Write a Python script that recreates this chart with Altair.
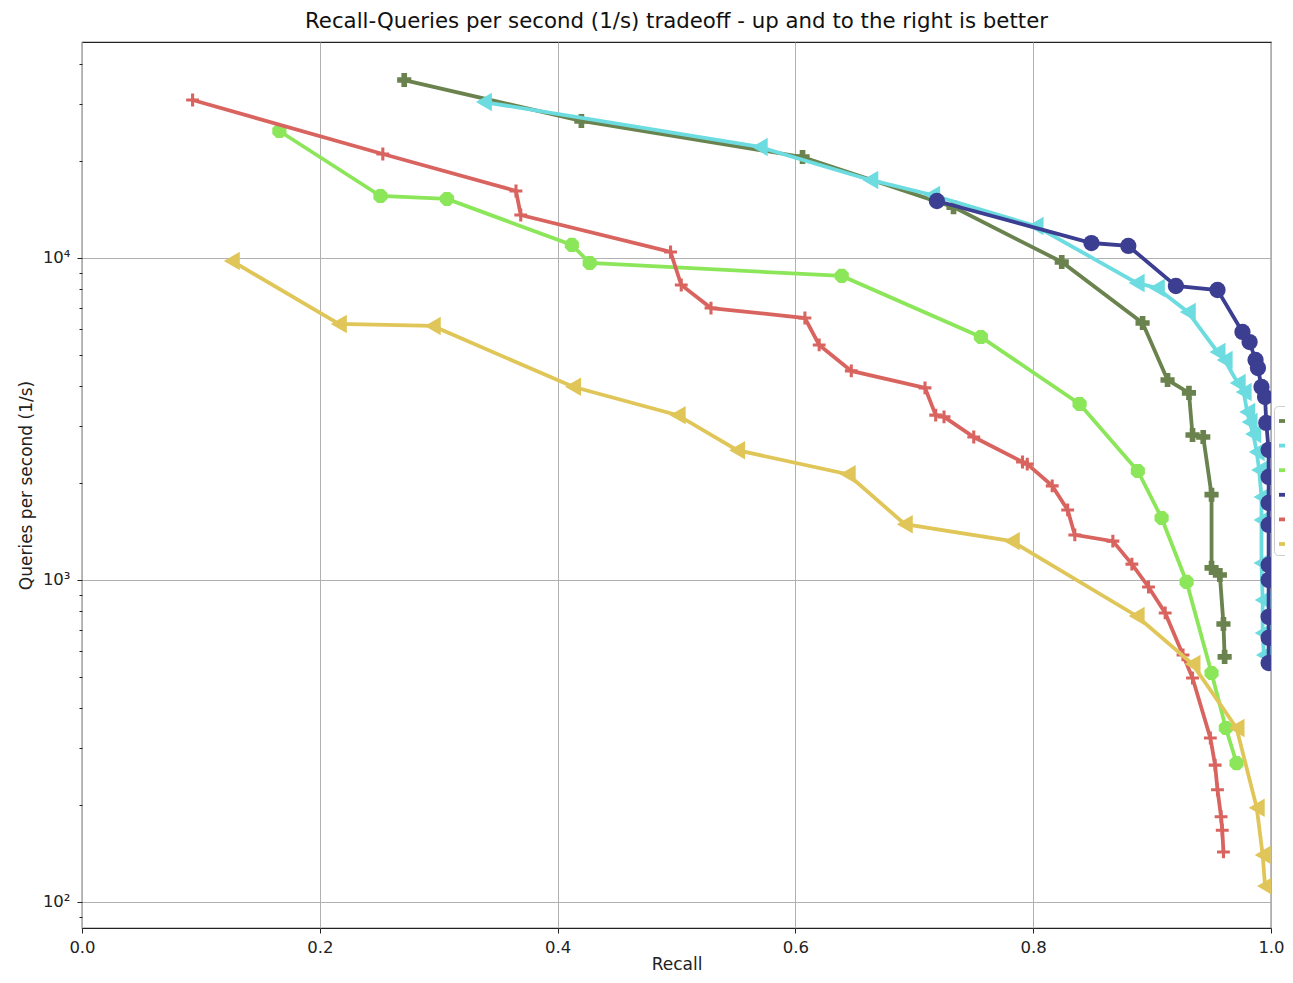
import altair as alt
import pandas as pd

names = ["series 1", "series 2", "series 3", "series 4", "series 5", "series 6"]
colors = ["#6a824d", "#6cdce0", "#8ce65a", "#3c3e91", "#d9645f", "#e0c658"]

olive_recall = [0.271, 0.420, 0.606, 0.733, 0.824, 0.892, 0.913, 0.931, 0.934, 0.943, 0.950, 0.950, 0.957, 0.960, 0.961]
olive_qps = [35700, 26640, 20590, 14390, 9720, 6280, 4180, 3810, 2820, 2780, 1840, 1090, 1036, 730, 577]

cyan_recall = [0.338, 0.570, 0.663, 0.715, 0.802, 0.887, 0.904, 0.930, 0.955, 0.961, 0.972, 0.977, 0.980,
               0.982, 0.985, 0.988, 0.990, 0.992, 0.992, 0.992, 0.993, 0.993, 0.994]
cyan_qps = [30510, 22120, 17470, 15690, 12570, 8365, 8070, 6800, 5106, 4823, 4090, 3837, 3324,
            3095, 2841, 2498, 2196, 1810, 1536, 1129, 867, 684, 585]

green_recall = [0.166, 0.251, 0.307, 0.412, 0.427, 0.639, 0.756, 0.839, 0.888, 0.908, 0.929, 0.950, 0.962, 0.971]
green_qps = [24800, 15580, 15250, 10980, 9650, 8795, 5685, 3521, 2180, 1558, 986, 514, 347, 270]

blue_recall = [0.719, 0.849, 0.880, 0.920, 0.955, 0.976, 0.982, 0.987, 0.989, 0.992, 0.995, 0.996,
               0.998, 0.998, 0.998, 0.998, 0.998, 0.998, 0.998, 0.998, 0.998]
blue_qps = [15030, 11130, 10900, 8185, 7954, 5891, 5483, 4823, 4553, 3976, 3701, 3073,
            2533, 2089, 1734, 1482, 1113, 1000, 768, 661, 552]

red_recall = [0.093, 0.253, 0.365, 0.369, 0.495, 0.504, 0.529, 0.608, 0.620, 0.647, 0.709, 0.718, 0.725,
              0.750, 0.791, 0.795, 0.816, 0.829, 0.835, 0.867, 0.883, 0.897, 0.911, 0.926, 0.934, 0.949,
              0.953, 0.955, 0.958, 0.959, 0.960]
red_qps = [30950, 21040, 16150, 13600, 10440, 8245, 6990, 6510, 5370, 4460, 3950, 3250, 3210,
           2780, 2325, 2290, 1960, 1650, 1380, 1320, 1120, 951, 790, 585, 496, 323,
           266, 223, 184, 167, 143]

yellow_recall = [0.126, 0.216, 0.295, 0.413, 0.501, 0.551, 0.644, 0.692, 0.782, 0.887, 0.934, 0.971, 0.988, 0.993, 0.995]
yellow_qps = [9790, 6240, 6150, 3980, 3250, 2530, 2130, 1490, 1320, 773, 548, 347, 196, 140, 112]

x_ticks = [0.0, 0.2, 0.4, 0.6, 0.8, 1.0]
y_ticks = [90, 100, 200, 300, 400, 500, 600, 700, 800, 900, 1000, 2000, 3000, 4000, 5000, 6000,
           7000, 8000, 9000, 10000, 20000, 30000, 40000]

OCT = "M-0.41,-1L0.41,-1L1,-0.41L1,0.41L0.41,1L-0.41,1L-1,0.41L-1,-0.41Z"
PLUS = "M-1,-0.24L1,-0.24L1,0.24L-1,0.24Z M-0.24,-1L0.24,-1L0.24,1L-0.24,1Z"
shapes = ["cross", "triangle-left", OCT, "circle", PLUS, "triangle-left"]
sizes = [200, 340, 200, 265, 165, 340]

series_data = [
    (olive_recall, olive_qps),
    (cyan_recall, cyan_qps),
    (green_recall, green_qps),
    (blue_recall, blue_qps),
    (red_recall, red_qps),
    (yellow_recall, yellow_qps),
]

FONT = "DejaVu Sans"
ymaj = "datum.value == 100 || datum.value == 1000 || datum.value == 10000"

x_enc = alt.X(
    "recall:Q",
    scale=alt.Scale(domain=[0, 1], nice=False, zero=False),
    axis=alt.Axis(values=x_ticks, format=".1f", tickSize=5, labelPadding=6,
                  labelFlush=False, title="Recall", titleY=41, titleBaseline="alphabetic"),
)
y_enc = alt.Y(
    "qps:Q",
    scale=alt.Scale(type="log", domain=[83, 46860], nice=False),
    axis=alt.Axis(
        values=y_ticks,
        labelExpr="datum.value == 100 ? '10²' : datum.value == 1000 ? '10³' : datum.value == 10000 ? '10⁴' : ''",
        labelOverlap=False,
        labelFlush=False,
        labelPadding=7,
        tickSize={"condition": {"test": ymaj, "value": 5}, "value": 3},
        gridOpacity={"condition": {"test": ymaj, "value": 1}, "value": 0},
        title="Queries per second (1/s)",
        titlePadding=7,
    ),
)
color_enc = alt.Color(
    "series:N",
    scale=alt.Scale(domain=names, range=colors),
    legend=alt.Legend(
        orient="none", legendX=1192, legendY=364, title=None,
        symbolType="stroke", symbolStrokeWidth=3.8, symbolSize=400,
        labelExpr="''", labelFontSize=16, labelFont=FONT,
        strokeColor="#cccccc", fillColor="white",
        cornerRadius=4, padding=3, rowPadding=4.6,
    ),
)

layers = []
for i, (rec, qps) in enumerate(series_data):
    df = pd.DataFrame({"series": names[i], "recall": rec, "qps": qps, "idx": list(range(len(rec)))})
    base = alt.Chart(df)
    line = base.mark_line(strokeWidth=3.8, clip=True).encode(
        x=x_enc, y=y_enc, color=color_enc, order=alt.Order("idx:Q"))
    pts = base.mark_point(filled=True, shape=shapes[i], size=sizes[i], opacity=1,
                          strokeWidth=0, clip=True).encode(
        x=x_enc, y=y_enc, color=alt.value(colors[i]))
    layers += [line, pts]

chart = alt.layer(*layers).properties(
    width=1189,
    height=886,
    autosize=alt.AutoSizeParams(type="none"),
    padding={"left": 74, "top": 34, "right": 14, "bottom": 47},
    title=alt.TitleParams(
        "Recall-Queries per second (1/s) tradeoff - up and to the right is better",
        font=FONT, fontSize=21.3, fontWeight="normal", anchor="middle", offset=10, color="#111111"),
).configure_view(
    stroke="#222222", strokeWidth=1.2
).configure_axis(
    domain=False, grid=True, gridColor="#b0b0b0", gridWidth=1,
    tickColor="#222222", tickWidth=1, labelColor="#222222", titleColor="#222222",
    labelFont=FONT, titleFont=FONT, labelFontSize=16.5, titleFontSize=17, titleFontWeight="normal",
)

chart.save("out.html", embed_options={"renderer": "svg", "actions": False})
